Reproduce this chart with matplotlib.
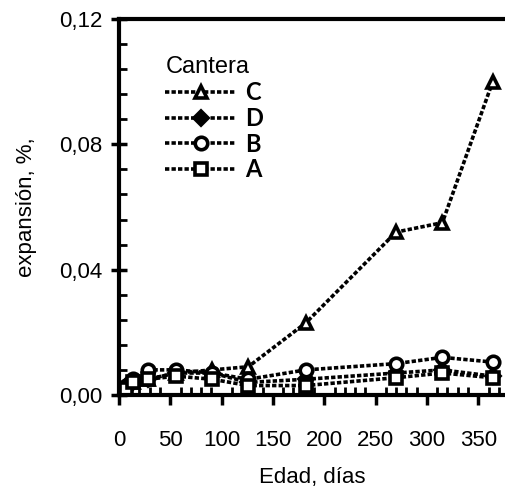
import matplotlib
matplotlib.use("Agg")
import matplotlib.pyplot as plt
from matplotlib.ticker import FuncFormatter, MultipleLocator

plt.rcParams["font.family"] = ["Liberation Sans Narrow", "Liberation Sans", "DejaVu Sans"]

# data
days = [7, 14, 28, 56, 91, 126, 182, 270, 315, 364]
exp_C = [0.002, 0.004, 0.005, 0.007, 0.008, 0.009, 0.023, 0.052, 0.055, 0.100]
exp_D = [0.003, 0.004, 0.005, 0.007, 0.007, 0.004, 0.005, 0.007, 0.008, 0.006]
exp_B = [0.003, 0.005, 0.008, 0.008, 0.007, 0.005, 0.008, 0.010, 0.012, 0.0105]
exp_A = [0.002, 0.004, 0.005, 0.006, 0.005, 0.003, 0.003, 0.0055, 0.007, 0.0055]

xticks = [0, 50, 100, 150, 200, 250, 300, 350]
yticks = [0.0, 0.04, 0.08, 0.12]

fig = plt.figure(figsize=(5.06, 4.90), dpi=100)
ax = fig.add_axes([0.235, 0.194, 0.763, 0.767])

style = dict(color="black", linestyle=(0, (1.2, 0.6)), linewidth=2.6,
             markersize=9, markeredgewidth=2.6, markeredgecolor="black")
ax.plot(days, exp_C, marker="^", markerfacecolor="white", label="C", **style)
ax.plot(days, exp_D, marker="D", markerfacecolor="black", label="D",
        **{**style, "markersize": 7})
ax.plot(days, exp_B, marker="o", markerfacecolor="white", label="B", **style)
ax.plot(days, exp_A, marker="s", markerfacecolor="white", label="A", **style)

ax.set_xlim(0, 376)
ax.set_ylim(0, 0.12)
ax.set_xticks(xticks)
ax.set_yticks(yticks)
ax.xaxis.set_minor_locator(MultipleLocator(10))
ax.yaxis.set_minor_locator(MultipleLocator(0.008))
ax.yaxis.set_major_formatter(FuncFormatter(lambda v, p: f"{v:.2f}".replace(".", ",")))

ax.tick_params(which="major", direction="inout", length=12, width=2.5, labelsize=16, pad=6)
ax.tick_params(axis="x", which="major", direction="out", length=7)
ax.tick_params(which="minor", direction="in", length=6, width=2)
ax.tick_params(axis="x", pad=18)

for s in ["left", "bottom", "top"]:
    ax.spines[s].set_linewidth(3)
ax.spines["right"].set_visible(False)

ax.set_xlabel("Edad, días", fontsize=16, labelpad=12)
ax.set_ylabel("expansión, %,", fontsize=16, labelpad=16)

leg = ax.legend(title="Cantera", loc="upper left", bbox_to_anchor=(0.065, 0.958),
                frameon=False, handlelength=3.0, handletextpad=0.4,
                labelspacing=0.12, prop={"family": "Lato", "weight": "bold", "size": 17},
                title_fontsize=17)
leg._legend_box.align = "left"

fig.savefig("out.png", dpi=100)
